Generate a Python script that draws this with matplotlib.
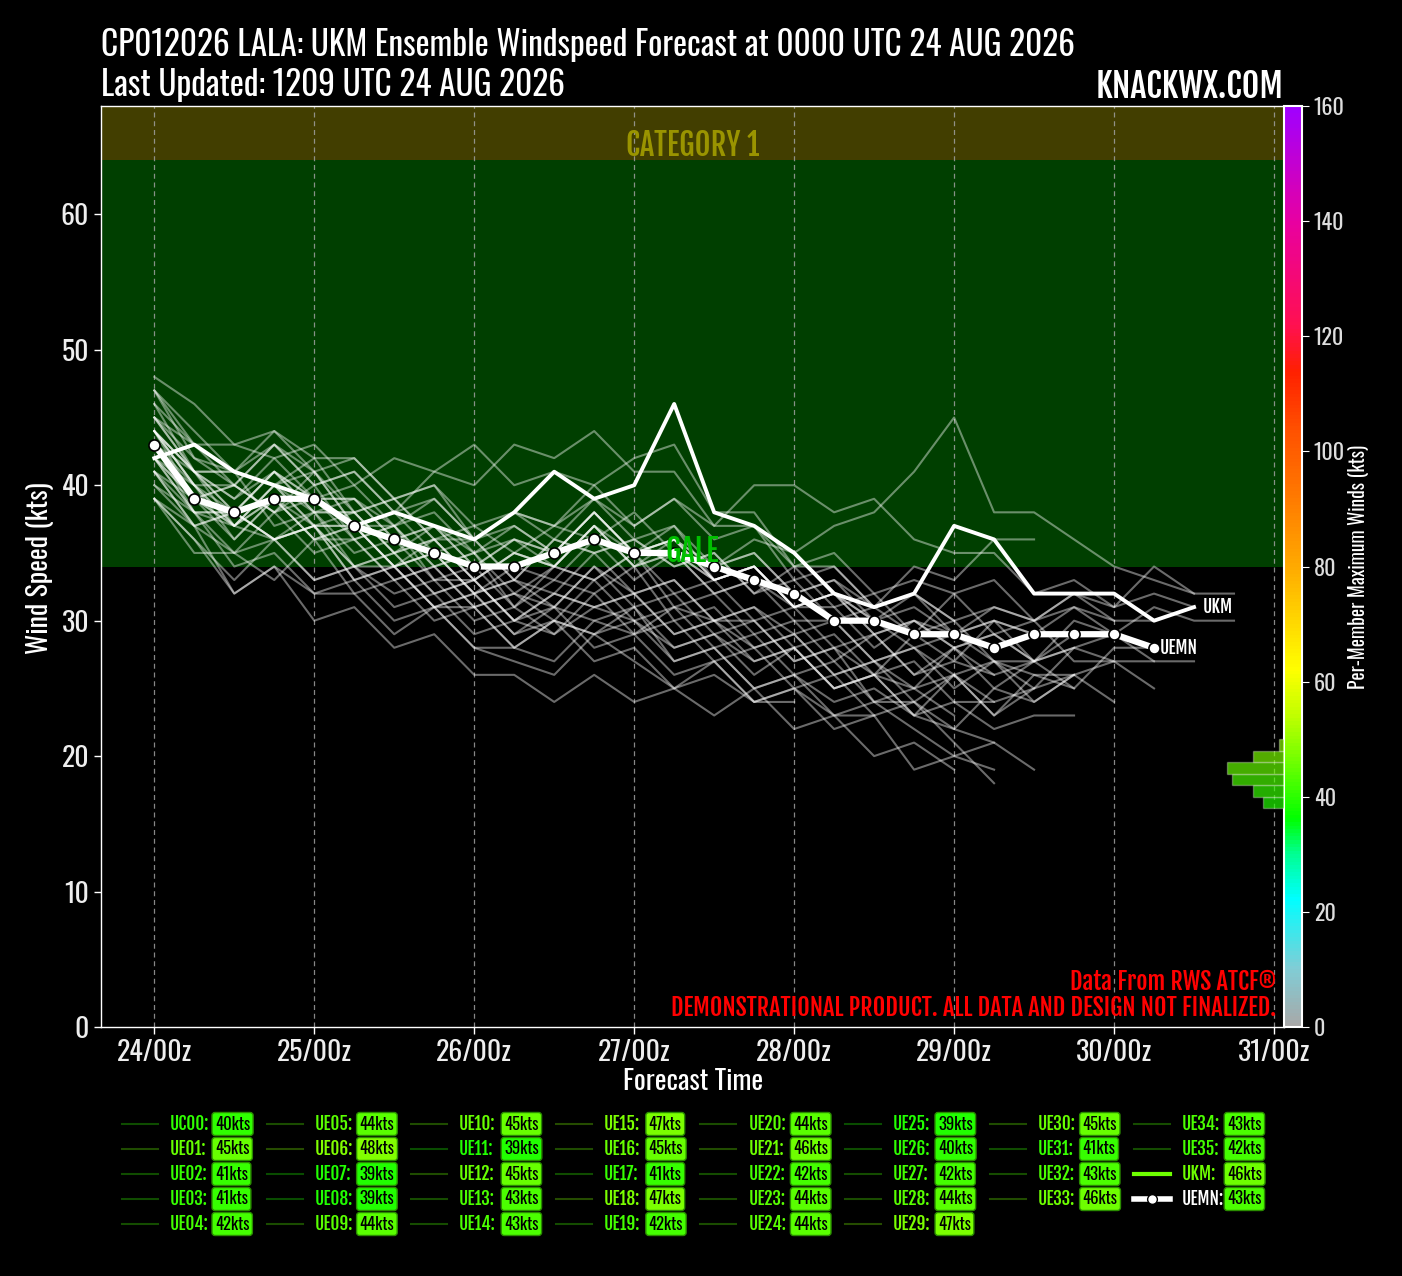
import numpy as np
import matplotlib
matplotlib.use('Agg')
import matplotlib.pyplot as plt
from matplotlib.colors import LinearSegmentedColormap, Normalize
from matplotlib.lines import Line2D
from matplotlib.cm import ScalarMappable

REG = ['Oswald', 'DejaVu Sans']
BOLD = ['Fjalla One', 'Oswald', 'DejaVu Sans']
plt.rcParams['font.family'] = REG

# ---------------- data ----------------
step_hours = 6
xtick_hours = [0, 24, 48, 72, 96, 120, 144, 168]
xtick_labels = ['24/00z', '25/00z', '26/00z', '27/00z', '28/00z', '29/00z', '30/00z', '31/00z']
ytick_values = [0, 10, 20, 30, 40, 50, 60]

member_names = ['UC00'] + ['UE%02d' % i for i in range(1, 36)]
member_winds = [
    [40,37,35,36,33,34,32,33,30,31,29,31,30,28,29,27,28,25,26,23,22,21],                  # UC00
    [45,42,40,43,41,38,39,36,37,35,37,36,38,35,33,34,31,32,30,28,29,27,26,26,24],         # UE01
    [41,38,34,35,32,33,30,31,28,27,26,29,27,25,27,24,25,23,24,22,20,21,19],               # UE02
    [41,37,38,36,38,35,36,33,34,31,33,32,34,30,31,28,29,26,27,24,26,23,25,26],            # UE03
    [42,40,37,39,36,37,34,35,32,33,31,34,32,33,30,31,29,30,27,28,25,27,24,26,27,27],      # UE04
    [44,39,40,38,40,36,37,34,35,31,34,33,35,31,32,29,30,27,29,26,27,26],                  # UE05
    [48,46,43,44,41,42,39,40,37,38,36,39,36,37,33,34,31],                                 # UE06
    [39,35,35,33,36,32,33,30,31,28,30,29,31,27,28,25,26,24,25,23,26,24,25],               # UE07
    [39,37,32,34,30,31,28,29,26,26,24,26,24,25,23,25,22,23,20,21,19],                     # UE08
    [44,40,40,38,39,36,37,34,35,32,34,33,35,32,33,30,31,28,29,26,28,25,27,28,29,27,27],   # UE09
    [45,41,41,40,42,38,39,36,36,33,36,35,36,34,35,32,34,31,32,29,30,27,27,25],            # UE10
    [39,36,32,34,32,32,29,31,28,28,27,30,29,31,30,30,27,28,24,24,21,18],                  # UE11
    [45,41,37,39,36,37,34,36,33,35,34,37,34,35,33,34,31,31,28,30,29,30,29,31,29],         # UE12
    [43,39,40,38,41,37,38,35,36,33,36,35,36,34,35,32,33,30,31,29,32,29,30,27,27,25],      # UE13
    [43,41,38,41,38,38,35,36,33,35,34,37,34,36,33,34,31,32,31,34,33,36,36],               # UE14
    [47,43,43,42,43,40,42,41,43,40,41,40,42,43,38,38,34,34,31],                           # UE15
    [45,43,41,44,42,42,39,40,36,37,35,38,35,36,34,35,32,33,30,32,29,31,30,31,30],         # UE16
    [41,37,38,36,37,34,35,32,33,30,32,31,32,29,30,27,28,25,26,23,24,22,23,23],            # UE17
    [47,44,41,43,40,41,38,39,36,38,37,40,37,39,36,37,34,35,32,33,32,33,30,32,31,34,32,32],# UE18
    [42,38,38,36,37,33,34,31,31,28,30,29,30,27,28,25,26,23,23,19,20,19],                  # UE19
    [44,41,39,41,39,40,37,39,36,38,37,39,37,39,37,40,40,38,39,36,35,35,32,33,31,32,31],   # UE20
    [46,43,40,43,40,41,38,41,40,43,42,44,41,41,37,37,33,34,31,32,30],                     # UE21
    [42,38,37,36,37,33,34,31,32,29,31,30,31,28,29,26,28,25,26,25,28,26,27],               # UE22
    [44,40,36,39,37,37,34,35,32,34,33,36,33,35,32,33,30,30,27,28,26,27,25,28,27],         # UE23
    [44,41,39,42,39,39,36,37,35,36,34,37,35,36,34,35,32,33,31,32,30,31,30,32,30,30],      # UE24
    [39,36,33,36,33,34,31,32,29,30,29,32,29,30,27,28,25,26,23,24,22,25,24,26],            # UE25
    [40,38,35,38,35,36,33,34,31,32,31,34,31,32,29,30,27,28,26,29,27,30,29],               # UE26
    [42,39,37,40,37,37,34,35,32,33,32,35,32,33,30,31,28,29,26,27,24,24],                  # UE27
    [44,40,38,41,39,39,37,38,35,37,35,38,35,36,33,34,31,32,30,31,29,30,27,29,29],         # UE28
    [47,42,41,37,38,34,34,31,32,29,30,27,28,25,26,24,24],                                 # UE29
    [44,41,38,41,38,39,36,37,34,36,35,38,35,37,34,36,35,37,38,41,45,38,38,36,34,33,32],   # UE30
    [41,39,37,40,38,38,35,36,33,35,34,37,34,35,32,33,31,32,29,30,28,29,27,28],            # UE31
    [43,38,38,36,37,34,35,32,33,30,32,31,32,29,30,28,29,26,27,25,26,23,26,25,28,28],      # UE32
    [46,41,41,40,41,37,37,33,33,30,31,28,29,26,27,24,25,22,23],                           # UE33
    [43,40,37,40,37,38,35,37,34,36,35,38,35,36,33,34,31,32,29,30,28,29,27,30,29,31,30,30],# UE34
    [42,39,36,39,36,36,33,34,31,32,30,33,30,31,28,29,26,27,24,25,23],                     # UE35
]
ukm_winds = [42,43,41,40,39,37,38,37,36,38,41,39,40,46,38,37,35,32,31,32,37,36,32,32,32,30,31]
uemn_winds = [43,39,38,39,39,37,36,35,34,34,35,36,35,35,34,33,32,30,30,29,29,28,29,29,29,28]

bands = [(34, 64, '#003f00', 'GALE', '#00c000'), (64, 68, '#423e00', 'CATEGORY 1', '#9a9400')]

# ---------------- colormap ----------------
cm_stops = [(0, '#a8a8a8'), (10, '#80cdd6'), (22, '#00ffff'), (30, '#00ff90'), (36, '#00ff00'),
            (46, '#70ff00'), (54, '#c0ff00'), (62, '#ffff00'), (72, '#ffd000'), (80, '#ffaa00'),
            (92, '#ff7a00'), (104, '#ff5000'), (114, '#ff2000'), (122, '#ff1050'), (140, '#e800a0'),
            (160, '#a000ff')]
cmap = LinearSegmentedColormap.from_list('wind', [(v / 160, c) for v, c in cm_stops])
norm = Normalize(0, 160)

# ---------------- figure ----------------
W, H = 1402, 1276
fig = plt.figure(figsize=(W / 100, H / 100), dpi=100, facecolor='black')
def fx(px): return px / W
def fy(py): return 1 - py / H

AX_L, AX_R, AX_T, AX_B = 101, 1284, 106, 1027
ax = fig.add_axes([fx(AX_L), fy(AX_B), (AX_R - AX_L) / W, (AX_B - AX_T) / H])
ax.set_facecolor('black')
ax.set_xlim(-8, 169.5)
ax.set_ylim(0, 68)

for lo, hi, col, lab, tcol in bands:
    ax.axhspan(lo, hi, color=col, zorder=0, lw=0)
    ax.text(0.5, lo + 0.3, lab, ha='center', va='baseline', color=tcol, fontsize=22,
            family=BOLD, zorder=10, transform=ax.get_yaxis_transform())

ax.set_xticks(xtick_hours)
ax.set_xticklabels(xtick_labels)
ax.set_yticks(ytick_values)
ax.tick_params(colors='white', labelsize=20, length=5, width=1)
for lbl in ax.get_xticklabels() + ax.get_yticklabels():
    lbl.set_color('#eeeeee')
ax.grid(axis='x', linestyle=(0, (4, 3)), color='#a0a0a0', lw=0.9, alpha=0.85, zorder=1)
for s in ax.spines.values():
    s.set_color('white')
    s.set_linewidth(1)

for vals in member_winds:
    hrs = np.arange(len(vals)) * step_hours
    ax.plot(hrs, vals, color='white', alpha=0.42, lw=1.5, zorder=2)

hrs_ukm = np.arange(len(ukm_winds)) * step_hours
ax.plot(hrs_ukm, ukm_winds, color='white', lw=2.8, zorder=4)
ax.annotate('UKM', (hrs_ukm[-1], ukm_winds[-1]), xytext=(6, 0), textcoords='offset points',
            color='white', fontsize=12.5, family=BOLD, va='center', ha='left', zorder=6)

hrs_mn = np.arange(len(uemn_winds)) * step_hours
ax.plot(hrs_mn, uemn_winds, color='white', lw=4.5, marker='o', ms=8, mfc='white', mec='black',
        mew=1.2, zorder=5)
ax.annotate('UEMN', (hrs_mn[-1], uemn_winds[-1]), xytext=(4, 0), textcoords='offset points',
            color='white', fontsize=12.5, family=BOLD, va='center', ha='left', zorder=6)

ax.text(0.993, 0.049, 'Data From RWS ATCF®', transform=ax.transAxes, ha='right', va='center',
        color='#ff0000', fontsize=17.5, family=BOLD, zorder=10)
ax.text(0.993, 0.021, 'DEMONSTRATIONAL PRODUCT. ALL DATA AND DESIGN NOT FINALIZED.',
        transform=ax.transAxes, ha='right', va='center', color='#ff0000', fontsize=17.5,
        family=BOLD, zorder=10)

fig.text(fx(693), fy(1081), 'Forecast Time', ha='center', va='center', color='white', fontsize=20)
fig.text(fx(40), fy(568), 'Wind Speed (kts)', ha='center', va='center', color='white',
         fontsize=20, rotation=90)

# titles
fig.text(fx(101), fy(45), 'CP012026 LALA: UKM Ensemble Windspeed Forecast at 0000 UTC 24 AUG 2026',
         ha='left', va='center', color='white', fontsize=24)
fig.text(fx(101), fy(85), 'Last Updated: 1209 UTC 24 AUG 2026', ha='left', va='center',
         color='white', fontsize=24)
fig.text(fx(1284), fy(87), 'KNACKWX.COM', ha='right', va='center', color='white', fontsize=24.5,
         family=BOLD)

# ---------------- colorbar ----------------
cax = fig.add_axes([fx(1284), fy(AX_B), 18 / W, (AX_B - AX_T) / H])
sm = ScalarMappable(norm=norm, cmap=cmap)
cb = fig.colorbar(sm, cax=cax)
cb.set_ticks(range(0, 161, 20))
cb.outline.set_edgecolor('white')
cb.outline.set_linewidth(1.5)
cax.tick_params(colors='white', labelsize=16, length=5)
for lbl in cax.get_yticklabels():
    lbl.set_color('#dddddd')
cb.set_label('Per-Member Maximum Winds (kts)', color='white', fontsize=14, labelpad=2)

# ---------------- histogram of maxima ----------------
all_names = member_names + ['UKM', 'UEMN']
all_max = [max(v) for v in member_winds] + [max(ukm_winds), max(uemn_winds)]
edges = np.arange(0, 162, 2)
counts, _ = np.histogram(all_max, bins=edges)
HW = 200
hax = fig.add_axes([fx(AX_R - HW), fy(AX_B), HW / W, (AX_B - AX_T) / H])
hax.patch.set_alpha(0)
hax.set_ylim(0, 160)
hax.set_xlim(HW / 5.2, 0)
hax.axis('off')
centers = edges[:-1] + 1
fcols = [(*cmap(norm(c))[:3], 0.68) for c in centers]
hax.barh(edges[:-1], counts, height=2, align='edge', color=fcols,
         edgecolor=(1, 1, 1, 0.3), lw=1)

# ---------------- legend (manual) ----------------
ncol, nrow = 8, 5
full_cols = len(all_names) - (nrow - 1) * ncol
positions = []
for c in range(ncol):
    n_in = nrow if c < full_cols else nrow - 1
    for r in range(n_in):
        positions.append((c, r))
col_x = [122 + 144.6 * c for c in range(ncol)]
row_y = [1124 + 25 * r for r in range(nrow)]
for i, name in enumerate(all_names):
    c, r = positions[i]
    x0 = col_x[c]
    y0 = row_y[r]
    mx = all_max[i]
    col = cmap(norm(mx))
    if name == 'UEMN':
        fig.add_artist(Line2D([fx(x0), fx(x0 + 36)], [fy(y0), fy(y0)], color='white', lw=4,
                              transform=fig.transFigure))
        fig.add_artist(Line2D([fx(x0 + 18)], [fy(y0)], color='white', marker='o', ms=7,
                              mec='black', mew=1, transform=fig.transFigure))
        tcol = 'white'
    elif name == 'UKM':
        fig.add_artist(Line2D([fx(x0), fx(x0 + 36)], [fy(y0), fy(y0)], color=col, lw=3,
                              transform=fig.transFigure))
        tcol = col
    else:
        fig.add_artist(Line2D([fx(x0), fx(x0 + 36)], [fy(y0), fy(y0)], color=col, lw=1.5,
                              alpha=0.3, transform=fig.transFigure))
        tcol = col
    fig.text(fx(x0 + 48), fy(y0), name + ':', ha='left', va='center', color=tcol,
             fontsize=12.5, family=BOLD)
    fig.text(fx(x0 + 93), fy(y0), '%dkts' % mx, ha='left', va='center', color='black',
             fontsize=12,
             bbox=dict(boxstyle='round,pad=0.18', fc=col, ec='#2a8c00', lw=1))

fig.savefig('out.png', dpi=100, facecolor='black')
